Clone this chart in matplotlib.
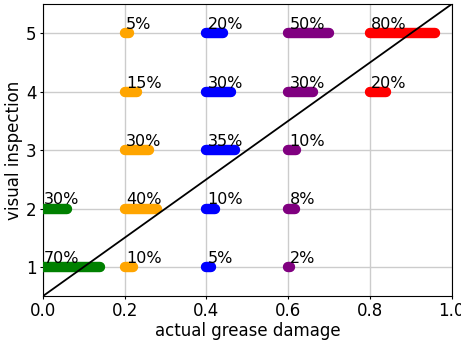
import matplotlib.pyplot as plt

# damage level where each group starts, its colour and percentages (visual 1..5)
starts = [0.0, 0.2, 0.4, 0.6, 0.8]
colors = ['green', 'orange', 'blue', 'purple', 'red']
levels = [1, 2, 3, 4, 5]
pcts = [
    [70, 30, None, None, None],
    [10, 40, 30, 15, 5],
    [5, 10, 35, 30, 20],
    [2, 8, 10, 30, 50],
    [None, None, None, 20, 80],
]
diag_x = [0.0, 1.0]
diag_y = [0.5, 5.5]

fig = plt.figure(figsize=(4.61, 3.4), dpi=100)
ax = fig.add_axes([0.093, 0.129, 0.887, 0.859])

for x0, c, row in zip(starts, colors, pcts):
    for lev, p in zip(levels, row):
        if p is None:
            continue
        ax.plot([x0, x0 + p / 100 * 0.2], [lev, lev], color=c, lw=7.5,
                solid_capstyle='round', zorder=3)
        ax.text(x0 + 0.003, lev + 0.07, '%d%%' % p, fontsize=11.5, zorder=4)

ax.plot(diag_x, diag_y, color='k', lw=1.3, zorder=5)

ax.set_xlim(0, 1.0)
ax.set_ylim(0.5, 5.5)
ax.set_yticks([1, 2, 3, 4, 5])
ax.grid(True, color='#cccccc', lw=1)
ax.set_axisbelow(True)
ax.tick_params(labelsize=12, length=2.5, pad=2)
ax.set_xlabel('actual grease damage', fontsize=12, labelpad=1)
ax.set_ylabel('visual inspection', fontsize=12, labelpad=2)

fig.savefig('out.png')
